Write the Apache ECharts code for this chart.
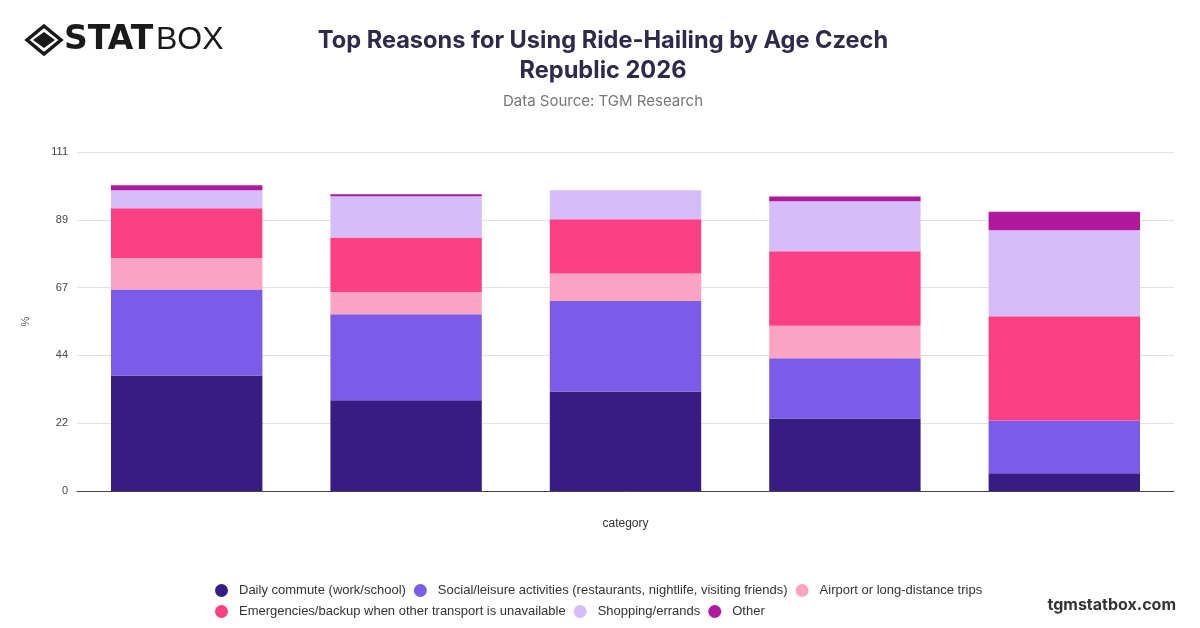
<!DOCTYPE html>
<html>
<head>
<meta charset="utf-8">
<script src="https://cdn.jsdelivr.net/npm/echarts@6/dist/echarts.min.js"></script>
<style>html,body{margin:0;padding:0;background:#fff}#c{width:1200px;height:628px}</style>
</head>
<body>
<div id="c"></div>
<script>
const categories = ['18-24', '25-34', '35-44', '45-54', '55+'];
const seriesNames = [
  'Daily commute (work/school)',
  'Social/leisure activities (restaurants, nightlife, visiting friends)',
  'Airport or long-distance trips',
  'Emergencies/backup when other transport is unavailable',
  'Shopping/errands',
  'Other'
];
const dailyCommute = [37.8, 29.7, 32.6, 23.7, 5.8];
const socialLeisure = [28.2, 28.2, 29.6, 19.8, 17.3];
const airportTrips = [10.3, 7.3, 9.0, 10.6, 0];
const emergencies = [16.3, 17.8, 17.8, 24.4, 34.1];
const shopping = [5.9, 13.5, 9.5, 16.4, 28.2];
const other = [1.6, 0.7, 0, 1.5, 6.0];
const colors = ['#371c84', '#7b5ce8', '#fba3c3', '#fd3f83', '#d5bcfa', '#b0189e'];

const allData = [dailyCommute, socialLeisure, airportTrips, emergencies, shopping, other];

const chart = echarts.init(document.getElementById('c'));
chart.setOption({
  animation: false,
  backgroundColor: '#fff',
  textStyle: { fontFamily: '"Liberation Sans", Arial, sans-serif' },
  title: [{
    text: 'Top Reasons for Using Ride-Hailing by Age Czech\nRepublic 2026',
    subtext: 'Data Source: TGM Research',
    left: 598, top: 21, textAlign: 'center',
    textStyle: { fontSize: 23.6, fontWeight: 'bold', color: '#2d2a4a', lineHeight: 30, fontFamily: 'Inter, sans-serif' },
    subtextStyle: { fontSize: 15, color: '#777', fontFamily: 'Inter, sans-serif' },
    itemGap: 8
  }],
  graphic: [
    { type: 'polygon', shape: { points: [[44, 26], [61, 40], [44, 54], [27, 40]] }, style: { fill: 'none', stroke: '#1a1a1a', lineWidth: 3.5 } },
    { type: 'polygon', shape: { points: [[44, 32], [55, 40], [44, 48], [33, 40]] }, style: { fill: '#1a1a1a' } },
    { type: 'text', left: 64, top: 24, style: { text: 'STAT', font: '900 33px "DejaVu Sans", sans-serif', fill: '#1a1a1a' } },
    { type: 'text', left: 156, top: 24, style: { text: 'BOX', font: '300 32px "Liberation Sans", sans-serif', fill: '#1a1a1a' } },
    { type: 'text', right: 24, top: 597, style: { text: 'tgmstatbox.com', font: 'bold 16px Inter, sans-serif', fill: '#333' } }
  ],
  legend: {
    left: 210, top: 579, width: 800,
    itemGap: 8, itemWidth: 25, itemHeight: 13,
    icon: 'circle',
    textStyle: { fontSize: 13, color: '#333', fontFamily: '"Liberation Sans", Arial, sans-serif' },
    data: seriesNames
  },
  grid: { left: 77, right: 26, top: 152, bottom: 137 },
  xAxis: {
    type: 'category', data: categories,
    name: 'category', nameLocation: 'middle', nameGap: 27,
    nameTextStyle: { fontSize: 12, color: '#333' },
    axisLabel: { show: false }, axisTick: { show: false },
    axisLine: { lineStyle: { color: '#444' } }
  },
  yAxis: {
    type: 'value', min: 0, max: 111, interval: 22.2,
    name: '%', nameLocation: 'middle', nameGap: 46, nameRotate: 90,
    nameTextStyle: { fontSize: 11, color: '#555' },
    axisLabel: { formatter: v => Math.round(v), fontSize: 11, color: '#444', margin: 9 },
    splitLine: { lineStyle: { color: '#e2e2e2' } },
    axisLine: { show: false }, axisTick: { show: false }
  },
  series: seriesNames.map((n, i) => ({
    name: n, type: 'bar', stack: 'total', barWidth: '69%',
    data: allData[i],
    itemStyle: { color: colors[i] }
  }))
});
</script>
</body>
</html>
